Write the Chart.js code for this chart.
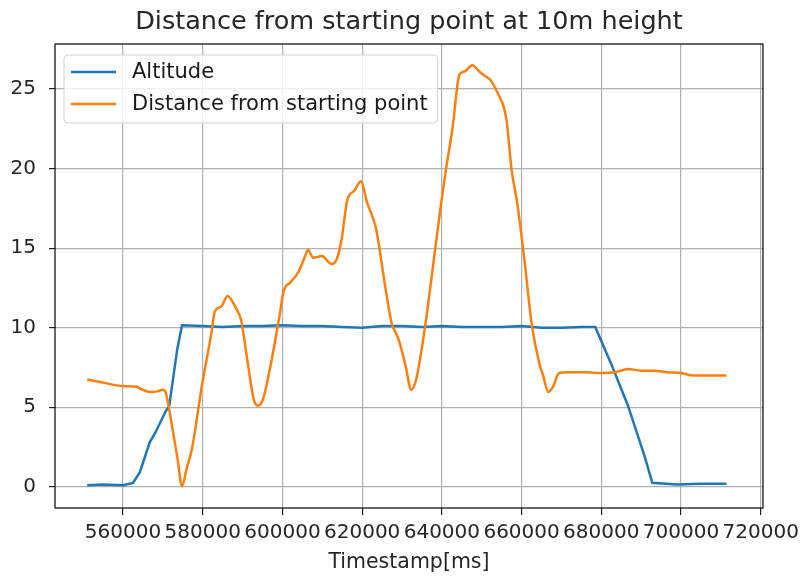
<!DOCTYPE html>
<html>
<head>
<meta charset="utf-8">
<title>Distance from starting point at 10m height</title>
<script src="https://cdn.jsdelivr.net/npm/chart.js@4.4.0/dist/chart.umd.min.js"></script>
<style>
  body { margin: 0; background: #fff; }
  canvas { display: block; }
</style>
</head>
<body>
<canvas id="myChart" width="805" height="577"></canvas>
<script>
// altitude trace (timestamp in ms, metres)
var altTime = [551000, 555000, 560000, 562500, 564200, 566700, 568100, 570600, 571600, 573600,
  574800, 580000, 585000, 590000, 595000, 600000, 605000, 610000, 615000, 620000,
  625000, 630000, 635000, 640000, 645000, 650000, 655000, 660000, 665000, 670000,
  675000, 678500, 682700, 686700, 690900, 692800, 699000, 704900, 711400];
var altValue = [0.1, 0.15, 0.1, 0.25, 0.9, 2.8, 3.4, 4.7, 5.1, 8.65,
  10.15, 10.1, 10.05, 10.1, 10.1, 10.15, 10.1, 10.1, 10.05, 10.0,
  10.1, 10.1, 10.05, 10.1, 10.05, 10.05, 10.05, 10.1, 10.0, 10.0,
  10.05, 10.05, 7.6, 5.1, 1.9, 0.25, 0.15, 0.2, 0.2];

// distance from starting point
var distTime = [551000, 555000, 560000, 563200, 564900, 566700, 568600, 569900, 570600, 571100,
  572300, 573600, 574800, 576000, 577300, 579750, 582200, 583000, 584700, 586200,
  588400, 589600, 591400, 592800, 593800, 595100, 597000, 599300, 600300, 602000,
  604000, 605700, 606400, 607700, 609900, 612300, 613600, 614800, 616300, 618000,
  619700, 621200, 623500, 625900, 627400, 629100, 630900, 632300, 633600, 635800,
  638300, 639700, 641000, 642700, 644400, 645700, 647650, 649400, 650900, 652100,
  654300, 655600, 656300, 657500, 658800, 660700, 662500, 664400, 665400, 666700,
  667900, 669400, 671800, 676000, 680200, 683400, 686700, 690100, 693300, 696500,
  700000, 703200, 706400, 711400];
var distValue = [6.75, 6.55, 6.33, 6.3, 6.1, 5.96, 6.0, 6.1, 6.0, 5.5,
  3.8, 1.9, 0.05, 1.2, 2.4, 6.3, 9.7, 11.0, 11.35, 12.0,
  11.2, 10.5, 7.6, 5.5, 5.1, 5.5, 7.6, 10.8, 12.3, 12.85,
  13.5, 14.5, 14.9, 14.4, 14.5, 14.0, 14.3, 15.5, 18.05, 18.6,
  19.2, 17.9, 16.2, 12.4, 10.3, 9.3, 7.6, 6.1, 6.8, 10.1,
  14.9, 17.6, 19.9, 22.6, 25.9, 26.1, 26.5, 26.1, 25.8, 25.6,
  24.6, 23.8, 22.9, 19.9, 18.0, 14.3, 10.3, 7.8, 7.0, 5.96,
  6.3, 7.15, 7.2, 7.2, 7.15, 7.2, 7.4, 7.3, 7.3, 7.2,
  7.15, 7.0, 7.0, 7.0];

var xTicks = [560000, 580000, 600000, 620000, 640000, 660000, 680000, 700000, 720000];
var yTicks = [0, 5, 10, 15, 20, 25];

function toPoints(xs, ys) {
  return xs.map(function (x, i) { return { x: x, y: ys[i] }; });
}

Chart.defaults.font.family = "'DejaVu Sans', sans-serif";
Chart.defaults.color = '#262626';

// black box round the plot like matplotlib spines
var frame = {
  id: 'frame',
  afterDraw: function (chart) {
    var a = chart.chartArea, c = chart.ctx;
    c.save();
    c.strokeStyle = '#000';
    c.lineWidth = 1.2;
    c.strokeRect(a.left, a.top, a.right - a.left, a.bottom - a.top);
    c.restore();
  }
};

// legend box in the upper left of the plot
var legendBox = {
  id: 'legendBox',
  afterDraw: function (chart) {
    var a = chart.chartArea, c = chart.ctx;
    var sets = chart.data.datasets;
    c.save();
    c.font = "21px 'DejaVu Sans'";
    var w = 0;
    sets.forEach(function (d) { w = Math.max(w, c.measureText(d.label).width); });
    var left = a.left + 9, top = a.top + 11;
    var boxW = 68 + w + 10, boxH = 68;
    c.beginPath();
    c.roundRect(left, top, boxW, boxH, 4);
    c.fillStyle = 'rgba(255,255,255,0.8)';
    c.fill();
    c.strokeStyle = '#d4d4d4';
    c.lineWidth = 1;
    c.stroke();
    sets.forEach(function (d, i) {
      var y = top + 17 + i * 32;
      c.beginPath();
      c.moveTo(left + 7, y);
      c.lineTo(left + 52, y);
      c.strokeStyle = d.borderColor;
      c.lineWidth = d.borderWidth;
      c.stroke();
      c.fillStyle = '#1a1a1a';
      c.textBaseline = 'middle';
      c.fillText(d.label, left + 68, y + 1);
    });
    c.restore();
  }
};

var ctx = document.getElementById('myChart').getContext('2d');
var myChart = new Chart(ctx, {
  type: 'line',
  data: {
    datasets: [{
      label: 'Altitude',
      data: toPoints(altTime, altValue),
      borderColor: '#1f77b4',
      borderWidth: 2.5,
      pointRadius: 0,
      tension: 0,
      order: 1
    }, {
      label: 'Distance from starting point',
      data: toPoints(distTime, distValue),
      borderColor: '#ff7f0e',
      borderWidth: 2.5,
      pointRadius: 0,
      cubicInterpolationMode: 'monotone',
      order: 0
    }]
  },
  options: {
    responsive: false,
    animation: false,
    layout: { padding: { left: 0, right: 38, top: 0, bottom: 0 } },
    plugins: {
      legend: { display: false },
      tooltip: { enabled: false },
      title: {
        display: true,
        fullSize: false,
        text: 'Distance from starting point at 10m height',
        font: { size: 25.5, weight: 'normal' },
        padding: { top: 7, bottom: 6.4 }
      }
    },
    scales: {
      x: {
        type: 'linear',
        min: 542925,
        max: 720575,
        afterFit: function (s) { s.height = 69; },
        afterBuildTicks: function (s) { s.ticks = xTicks.map(function (v) { return { value: v }; }); },
        ticks: {
          maxRotation: 0,
          autoSkip: false,
          padding: 6,
          font: { size: 20 },
          callback: function (v) { return String(v); }
        },
        grid: { color: '#b0b0b0', lineWidth: 1.2, tickLength: 7, tickColor: '#222', tickWidth: 1.2 },
        border: { display: false },
        title: {
          display: true,
          text: 'Timestamp[ms]',
          font: { size: 20.5 },
          padding: { top: 0, bottom: 2 }
        }
      },
      y: {
        min: -1.33,
        max: 27.83,
        afterFit: function (s) { s.width = 55; },
        afterBuildTicks: function (s) { s.ticks = yTicks.map(function (v) { return { value: v }; }); },
        ticks: {
          padding: 13,
          font: { size: 20 },
          callback: function (v) { return String(v); }
        },
        grid: { color: '#b0b0b0', lineWidth: 1.2, tickLength: 6, tickColor: '#222', tickWidth: 1.2 },
        border: { display: false }
      }
    }
  },
  plugins: [frame, legendBox]
});
</script>
</body>
</html>
